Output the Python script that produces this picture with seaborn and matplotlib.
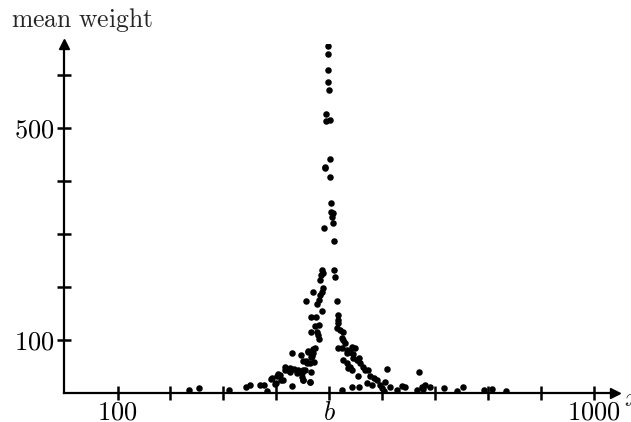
import matplotlib
matplotlib.use("Agg")
import matplotlib.pyplot as plt
import numpy as np
import pandas as pd
import seaborn as sns

# sample points: position x and mean weight
x_vals = [
    498, 497, 498, 497, 500, 494, 502, 494, 502, 493, 493, 502, 504, 504, 507,
    505, 508, 490, 510, 487, 510, 484, 489, 511, 483, 489, 486, 483, 469, 480,
    456, 477, 514, 487, 465, 476, 516, 481, 473, 517, 465, 477, 479, 480, 517,
    514, 521, 526, 524, 527, 530, 517, 524, 533, 543, 549, 540, 527, 533, 540,
    543, 546, 552, 558, 565, 568, 574, 555, 577, 571, 581, 590, 596, 600, 610,
    606, 615, 628, 637, 644, 669, 666, 675, 681, 678, 691, 718, 742, 754, 792,
    808, 834, 524, 544, 557, 603, 557, 536, 533, 546, 584,
    236, 255, 311, 342, 351, 370, 376, 382, 391, 399, 403, 410, 417, 417, 423,
    429, 426, 429, 434, 442, 446, 448, 450, 451, 455, 458, 460, 464, 465, 463,
    467, 470, 472, 473, 460, 465, 456, 426, 451, 407, 439, 448, 392, 402, 413,
    451, 464, 398, 469,
]
y_vals = [
    655, 640, 609, 586, 572, 526, 516, 514, 442, 427, 424, 408, 359, 342, 339,
    332, 320, 312, 286, 233, 233, 223, 226, 218, 214, 198, 191, 185, 191, 176,
    174, 168, 174, 155, 144, 144, 147, 128, 126, 132, 116, 116, 109, 102, 138,
    122, 119, 116, 103, 100, 94, 85, 85, 81, 87, 84, 78, 62, 56, 50,
    43, 66, 62, 56, 50, 43, 43, 32, 32, 18, 15, 25, 15, 9, 45,
    21, 12, 5, 13, 11, 39, 6, 12, 15, 7, 11, 10, 4, 11, 6,
    8, 3, 6, 11, 12, 3, 66, 47, 75, 74, 28,
    6, 10, 5, 12, 16, 15, 15, 3, 26, 18, 35, 24, 49, 43, 44,
    75, 40, 13, 45, 44, 72, 37, 24, 61, 43, 56, 80, 56, 40, 20,
    69, 75, 59, 84, 78, 67, 61, 47, 43, 34, 38, 31, 28, 32, 25,
    25, 20, 17, 83,
]

x_ticks = [100, 200, 300, 400, 500, 600, 700, 800, 900, 1000]
x_tick_labels = ["$100$", "", "", "", "$b$", "", "", "", "", "$1000$"]
y_ticks = [100, 200, 300, 400, 500, 600]
y_tick_labels = ["$100$", "", "", "", "$500$", ""]

sns.set_theme(style="white")
plt.rcParams["mathtext.fontset"] = "cm"
plt.rcParams["font.family"] = ["DejaVu Serif"]

W, H = 631, 422
fig = plt.figure(figsize=(W / 100, H / 100), dpi=100)

left_px, right_px, bottom_px, top_px = 63.5, 615, 393, 44
ax = fig.add_axes([left_px / W, 1 - bottom_px / H,
                   (right_px - left_px) / W, (bottom_px - top_px) / H])

df = pd.DataFrame({"x": x_vals, "y": y_vals})
sns.scatterplot(data=df, x="x", y="y", ax=ax, color="black", s=22,
                linewidth=0, legend=False, zorder=3)

px_per_x = 52.9 / 100
px_per_y = 53.0 / 100
x0 = -(64.6 - left_px) / px_per_x
ax.set_xlim(x0, x0 + (right_px - left_px) / px_per_x)
ax.set_ylim(0, (bottom_px - top_px) / px_per_y)

ax.set_xticks(x_ticks)
ax.set_xticklabels(x_tick_labels)
ax.set_yticks(y_ticks)
ax.set_yticklabels(y_tick_labels)
ax.set_xlabel("")
ax.set_ylabel("")

for side in ["top", "right"]:
    ax.spines[side].set_visible(False)
for side in ["left", "bottom"]:
    ax.spines[side].set_color("black")
    ax.spines[side].set_linewidth(1.6)

ax.tick_params(axis="both", direction="inout", length=10, width=1.8,
               colors="black", labelsize=19, bottom=True, left=True)
ax.tick_params(axis="x", pad=0)
ax.tick_params(axis="y", pad=1.5)

# arrow heads at the axis ends
ax.plot(1, 0, marker=">", ms=7, color="black", transform=ax.transAxes,
        clip_on=False, zorder=5)
ax.plot(0, 1, marker="^", ms=7, color="black", transform=ax.transAxes,
        clip_on=False, zorder=5)

fig.text(11 / W, 1 - 27 / H, r"$\mathrm{mean\ weight}$", fontsize=18.5,
         va="baseline", ha="left")
fig.text(624 / W, 1 - 406 / H, r"$x$", fontsize=19, va="baseline", ha="left")

fig.savefig("out.png", dpi=100)
